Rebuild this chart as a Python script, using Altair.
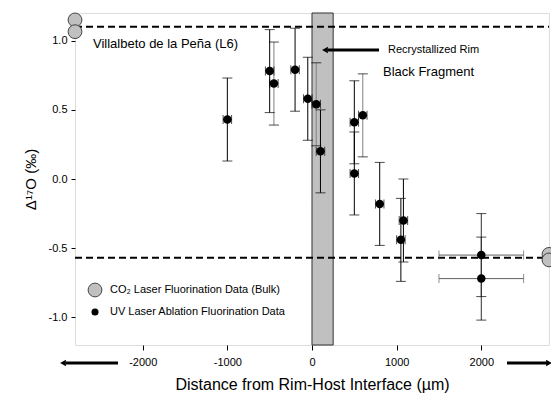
import altair as alt
import pandas as pd

# ---- data ----
x_um = [-1000, -500, -450, -200, -50, 50, 100, 500, 600, 500, 800, 1080, 1050, 2000, 2000]
d17O = [0.43, 0.78, 0.69, 0.79, 0.58, 0.54, 0.20, 0.41, 0.46, 0.04, -0.18, -0.30, -0.44, -0.55, -0.72]
y_err = [0.30] * 15
x_err = [50] * 13 + [500, 500]
vbar_tone = ["k", "k", "g", "k", "k", "g", "k", "k", "g", "k", "k", "k", "k", "d", "d"]
hbar_tone = ["k"] * 13 + ["h", "h"]

bulk_x = [-2800, -2800, 2800, 2800]
bulk_y = [1.15, 1.065, -0.545, -0.585]

bulk_levels = [1.10, -0.57]
rim_start = [0]
rim_end = [250]

x_ticks = [-2000, -1000, 0, 1000, 2000]
y_ticks = [-1.0, -0.5, 0.0, 0.5, 1.0]

df = pd.DataFrame({"x": x_um, "y": d17O, "ye": y_err, "xe": x_err,
                   "vt": vbar_tone, "ht": hbar_tone})
df["ylo"] = df["y"] - df["ye"]
df["yhi"] = df["y"] + df["ye"]
df["xlo"] = df["x"] - df["xe"]
df["xhi"] = df["x"] + df["xe"]
bulk = pd.DataFrame({"x": bulk_x, "y": bulk_y})
levels = pd.DataFrame({"y": bulk_levels})
rim = pd.DataFrame({"x0": rim_start, "x1": rim_end})

FONT = "Liberation Sans"
xscale = alt.Scale(domain=[-2800, 2800], nice=False, zero=False)
yscale = alt.Scale(domain=[-1.2, 1.2], nice=False, zero=False)

xaxis = alt.Axis(
    title="Distance from Rim-Host Interface (µm)", values=x_ticks,
    labelExpr="datum.value + ''", grid=False, domain=False,
    tickSize=5, tickColor="black", labelFontSize=11, labelColor="black",
    labelPadding=6, titleFontSize=16, titleFontWeight="normal",
    titleColor="black", titlePadding=9,
)
yaxis = alt.Axis(
    title="Δ¹⁷O (‰)", values=y_ticks,
    labelExpr="replace(format(datum.value, '.1f'), '−', '-')",
    grid=False, domain=False, tickSize=4, tickColor="black",
    labelFontSize=11, labelColor="black", labelPadding=4,
    titleFontSize=15, titleFontWeight="normal", titleColor="black",
    titlePadding=10,
)

band = alt.Chart(rim).mark_rect(fill="#c0c0c0", stroke="#333", strokeWidth=1).encode(
    x=alt.X("x0:Q", scale=xscale, axis=xaxis),
    x2="x1:Q",
    y=alt.value(0),
    y2=alt.value(332),
)

dash = alt.Chart(levels).mark_rule(color="black", strokeWidth=2, strokeDash=[7, 4]).encode(
    y=alt.Y("y:Q", scale=yscale, axis=yaxis),
    x=alt.value(0), x2=alt.value(474),
)

tone_scale = alt.Scale(domain=["k", "g", "d", "h"],
                       range=["#000000", "#808080", "#303030", "#606060"])

vbars = alt.Chart(df).mark_rule(strokeWidth=1).encode(
    x="x:Q", y="ylo:Q", y2="yhi:Q",
    color=alt.Color("vt:N", scale=tone_scale, legend=None),
)
vcap_lo = alt.Chart(df).mark_tick(orient="horizontal", size=10, thickness=1, color="black").encode(
    x="x:Q", y="ylo:Q")
vcap_hi = alt.Chart(df).mark_tick(orient="horizontal", size=10, thickness=1, color="black").encode(
    x="x:Q", y="yhi:Q")

hbars = alt.Chart(df).mark_rule(strokeWidth=1).encode(
    y="y:Q", x="xlo:Q", x2="xhi:Q",
    color=alt.Color("ht:N", scale=tone_scale, legend=None),
)
hcap_lo = alt.Chart(df).mark_tick(orient="vertical", size=9, thickness=1).encode(
    x="xlo:Q", y="y:Q", color=alt.Color("ht:N", scale=tone_scale, legend=None))
hcap_hi = alt.Chart(df).mark_tick(orient="vertical", size=9, thickness=1).encode(
    x="xhi:Q", y="y:Q", color=alt.Color("ht:N", scale=tone_scale, legend=None))

pts = alt.Chart(df).mark_point(filled=True, color="black", size=72, opacity=1, clip=False).encode(
    x="x:Q", y="y:Q")

bulk_pts = alt.Chart(bulk).mark_point(
    filled=True, fill="#c0c0c0", stroke="#444", strokeWidth=1, size=190, opacity=1, clip=False
).encode(x="x:Q", y="y:Q")


def txt(s, x, y, size, align="left"):
    return alt.Chart(pd.DataFrame({"t": [s]})).mark_text(
        align=align, baseline="middle", fontSize=size, font=FONT, color="black"
    ).encode(text="t:N", x=alt.value(x), y=alt.value(y))


def seg(x1, x2, y, w=3):
    return alt.Chart(pd.DataFrame({"a": [0]})).mark_rule(color="black", strokeWidth=w).encode(
        x=alt.value(x1), x2=alt.value(x2), y=alt.value(y))


def head(x, y, shape, size=50):
    return alt.Chart(pd.DataFrame({"a": [0]})).mark_point(
        shape=shape, filled=True, color="black", size=size, opacity=1
    ).encode(x=alt.value(x), y=alt.value(y))


legend_c = alt.Chart(pd.DataFrame({"a": [0]})).mark_point(
    filled=True, fill="#c0c0c0", stroke="#444", strokeWidth=1, size=190, opacity=1
).encode(x=alt.value(20), y=alt.value(277))
legend_d = alt.Chart(pd.DataFrame({"a": [0]})).mark_point(
    filled=True, color="black", size=50, opacity=1
).encode(x=alt.value(20), y=alt.value(299))

annotations = [
    txt("Villalbeto de la Peña (L6)", 18, 31, 13),
    txt("Recrystallized Rim", 313, 37, 11),
    seg(253, 304, 37),
    head(250, 37, "triangle-left", 45),
    txt("Black Fragment", 308, 59, 13),
    legend_c,
    txt("CO₂ Laser Fluorination Data (Bulk)", 35, 277, 11),
    legend_d,
    txt("UV Laser Ablation Fluorination Data", 35, 299, 11),
    seg(-9, 43, 350),
    head(-12, 350, "triangle-left", 45),
    seg(432, 472, 350),
    head(474, 350, "triangle-right", 45),
]

chart = alt.layer(
    band, dash, vbars, vcap_lo, vcap_hi, hbars, hcap_lo, hcap_hi, pts, bulk_pts, *annotations
).resolve_scale(color="shared").properties(
    width=474, height=332, autosize="none",
    padding={"left": 67, "top": 5, "right": 2, "bottom": 50},
).configure_view(stroke="black", strokeWidth=1).configure(font=FONT, background="white")

chart.save("out.html", embed_options={"renderer": "svg", "actions": False})
